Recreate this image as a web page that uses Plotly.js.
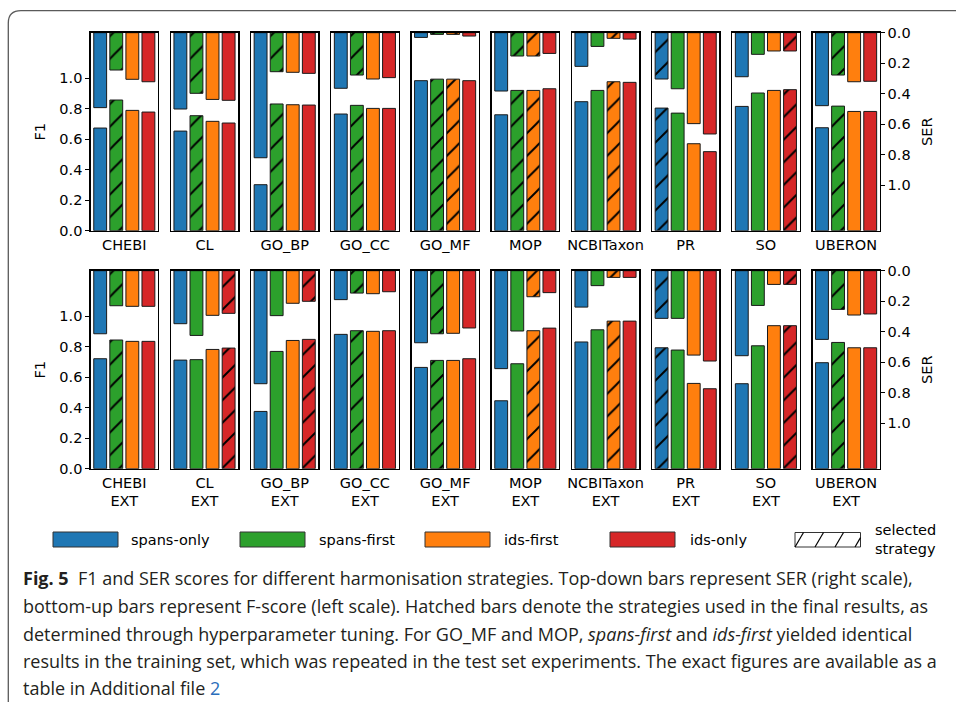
<!DOCTYPE html>
<html>
<head>
<meta charset="utf-8">
<script src="https://cdn.plot.ly/plotly-3.0.1.min.js"></script>
<style>html,body{margin:0;padding:0;background:#fff;}#chart{width:956px;height:702px;}</style>
</head>
<body>
<div id="chart"></div>
<script>
// ---------------- DATA ----------------
const datasets = ['CHEBI','CL','GO_BP','GO_CC','GO_MF','MOP','NCBITaxon','PR','SO','UBERON'];
const labelsTest = ['CHEBI','CL','GO_BP','GO_CC','GO_MF','MOP','NCBITaxon','PR','SO','UBERON'];
const labelsExt = ['CHEBI<br>EXT','CL<br>EXT','GO_BP<br>EXT','GO_CC<br>EXT','GO_MF<br>EXT','MOP<br>EXT','NCBITaxon<br>EXT','PR<br>EXT','SO<br>EXT','UBERON<br>EXT'];
const strategies = ['spans-only','spans-first','ids-first','ids-only'];
const strategyColors = ['#1f77b4','#2ca02c','#ff7f0e','#d62728'];
const f1Ticks = [0, 0.2, 0.4, 0.6, 0.8, 1.0];
const serTicks = [0, 0.2, 0.4, 0.6, 0.8, 1.0];

// test set (top row)
const f1SpansOnly   = [0.674, 0.654, 0.302, 0.766, 0.985, 0.761, 0.847, 0.805, 0.816, 0.676];
const f1SpansFirst  = [0.858, 0.755, 0.832, 0.823, 0.995, 0.921, 0.921, 0.772, 0.904, 0.818];
const f1IdsFirst    = [0.790, 0.718, 0.827, 0.803, 0.995, 0.921, 0.978, 0.571, 0.921, 0.783];
const f1IdsOnly     = [0.779, 0.707, 0.825, 0.803, 0.985, 0.932, 0.974, 0.519, 0.926, 0.783];
const serSpansOnly  = [0.492, 0.501, 0.821, 0.365, 0.031, 0.383, 0.221, 0.304, 0.289, 0.479];
const serSpansFirst = [0.245, 0.398, 0.256, 0.278, 0.011, 0.153, 0.090, 0.368, 0.142, 0.278];
const serIdsFirst   = [0.306, 0.438, 0.260, 0.304, 0.011, 0.153, 0.037, 0.597, 0.120, 0.322];
const serIdsOnly    = [0.322, 0.444, 0.267, 0.295, 0.022, 0.136, 0.042, 0.665, 0.120, 0.319];
const selectedTest  = [[1],[1],[1],[1],[1,2],[1,2],[2],[0],[3],[1]];

// extended set (bottom row)
const f1SpansOnlyExt   = [0.722, 0.713, 0.376, 0.882, 0.665, 0.446, 0.832, 0.794, 0.558, 0.696];
const f1SpansFirstExt  = [0.845, 0.716, 0.770, 0.906, 0.711, 0.689, 0.912, 0.779, 0.807, 0.829];
const f1IdsFirstExt    = [0.836, 0.783, 0.842, 0.902, 0.711, 0.906, 0.969, 0.560, 0.939, 0.794];
const f1IdsOnlyExt     = [0.836, 0.792, 0.849, 0.906, 0.722, 0.923, 0.969, 0.525, 0.939, 0.794];
const serSpansOnlyExt  = [0.414, 0.348, 0.742, 0.190, 0.473, 0.643, 0.239, 0.313, 0.558, 0.451];
const serSpansFirstExt = [0.230, 0.425, 0.295, 0.147, 0.414, 0.396, 0.098, 0.313, 0.228, 0.254];
const serIdsFirstExt   = [0.234, 0.293, 0.214, 0.151, 0.411, 0.171, 0.044, 0.554, 0.090, 0.291];
const serIdsOnlyExt    = [0.234, 0.280, 0.201, 0.138, 0.376, 0.144, 0.044, 0.593, 0.090, 0.284];
const selectedExt      = [[1],[3],[3],[1],[1],[2],[2],[0],[3],[1]];

const captionLines = [
  '<b>Fig. 5</b>  F1 and SER scores for different harmonisation strategies. Top-down bars represent SER (right scale),',
  'bottom-up bars represent F-score (left scale). Hatched bars denote the strategies used in the final results, as',
  'determined through hyperparameter tuning. For GO_MF and MOP, <i>spans-first</i> and <i>ids-first</i> yielded identical',
  'results in the training set, which was repeated in the test set experiments. The exact figures are available as a',
  'table in Additional file <span style="color:#2a6ebb">2</span>'
];

// ---------------- BUILD ----------------
const W = 956, H = 702;
const px = v => v / W;
const py = v => 1 - v / H;
const FONT = 'DejaVu Sans';
const FS = 14.5;

const rows = [
  {labels: labelsTest, f1: [f1SpansOnly, f1SpansFirst, f1IdsFirst, f1IdsOnly],
   ser: [serSpansOnly, serSpansFirst, serIdsFirst, serIdsOnly], sel: selectedTest, top: 32.7, bottom: 230.7},
  {labels: labelsExt, f1: [f1SpansOnlyExt, f1SpansFirstExt, f1IdsFirstExt, f1IdsOnlyExt],
   ser: [serSpansOnlyExt, serSpansFirstExt, serIdsFirstExt, serIdsOnlyExt], sel: selectedExt, top: 270.7, bottom: 468.7}
];

const traces = [];
const layout = {
  width: W, height: H, margin: {l: 0, r: 0, t: 0, b: 0},
  paper_bgcolor: '#fff', plot_bgcolor: 'rgba(0,0,0,0)',
  showlegend: false, barmode: 'overlay',
  font: {family: FONT, size: FS, color: '#000'},
  shapes: [], annotations: []
};

function barMarker(j, hatched) {
  return {
    color: strategyColors[j],
    line: {color: '#1a1a1a', width: 1},
    pattern: hatched
      ? {shape: '/', fillmode: 'replace', bgcolor: strategyColors[j], fgcolor: '#000', fgopacity: 1, size: 16, solidity: 0.12}
      : {shape: ''}
  };
}

rows.forEach((row, r) => {
  datasets.forEach((ds, i) => {
    const k = r * 10 + i + 1;
    const yF = 2 * k - 1, yS = 2 * k;
    const xName = k === 1 ? 'x' : 'x' + k;
    const yFName = yF === 1 ? 'y' : 'y' + yF;
    const ySName = 'y' + yS;
    strategies.forEach((s, j) => {
      const hatched = row.sel[i].includes(j);
      traces.push({type: 'bar', name: s, x: [j], y: [row.f1[j][i]], width: 0.8, xaxis: xName, yaxis: yFName,
                   marker: barMarker(j, hatched), hoverinfo: 'skip'});
      traces.push({type: 'bar', name: s, x: [j], y: [row.ser[j][i]], width: 0.8, xaxis: xName, yaxis: ySName,
                   marker: barMarker(j, hatched), hoverinfo: 'skip'});
    });

    const left = 90.7 + 80.2 * i;
    const xdom = [px(left), px(left + 67.2)];
    layout[k === 1 ? 'xaxis' : 'xaxis' + k] = {
      domain: xdom, anchor: yFName, range: [-0.59, 3.59],
      tickvals: [1.5], ticktext: [row.labels[i]], ticks: '', tickfont: {family: FONT, size: FS, color: '#000'},
      showline: true, mirror: true, linecolor: '#000', linewidth: 1.4,
      showgrid: false, zeroline: false, fixedrange: true
    };
    const first = i === 0, last = i === 9;
    layout[yF === 1 ? 'yaxis' : 'yaxis' + yF] = {
      domain: [py(row.bottom), py(row.top)], anchor: xName, range: [0, 1.3],
      tickvals: f1Ticks, tickformat: '.1f', showticklabels: first, ticks: first ? 'outside' : '',
      ticklen: 4, tickwidth: 1, tickcolor: '#000',
      tickfont: {family: FONT, size: FS, color: '#000'},
      title: first ? {text: 'F1', font: {family: FONT, size: FS, color: '#000'}, standoff: 10} : {text: ''},
      showline: true, mirror: true, linecolor: '#000', linewidth: 1.4,
      showgrid: false, zeroline: false, fixedrange: true
    };
    layout['yaxis' + yS] = {
      overlaying: yFName, anchor: xName, side: 'right', range: [1.3, 0],
      tickvals: serTicks, tickformat: '.1f', showticklabels: last, ticks: last ? 'outside' : '',
      ticklen: 4, tickwidth: 1, tickcolor: '#000',
      tickfont: {family: FONT, size: FS, color: '#000'},
      title: last ? {text: 'SER', font: {family: FONT, size: FS, color: '#000'}, standoff: 12} : {text: ''},
      showline: false, showgrid: false, zeroline: false, fixedrange: true
    };
  });
});

// Figure frame (rounded top-left corner)
layout.shapes.push({
  type: 'path', xref: 'paper', yref: 'paper',
  path: `M ${px(8.3)},0 L ${px(8.3)},${py(23)} Q ${px(8.3)},${py(10.7)} ${px(21)},${py(10.7)} L 1,${py(10.7)}`,
  line: {color: '#5a5a5a', width: 1.3}
});

// Legend
const legendX = [53, 240, 425, 610];
const legendTextX = [129, 317, 502, 688];
strategies.forEach((s, j) => {
  layout.shapes.push({type: 'rect', xref: 'paper', yref: 'paper',
    x0: px(legendX[j]), x1: px(legendX[j] + 65), y0: py(547), y1: py(532),
    fillcolor: strategyColors[j], line: {color: '#333', width: 1}});
  layout.annotations.push({xref: 'paper', yref: 'paper', x: px(legendTextX[j]), y: py(539.5),
    xanchor: 'left', yanchor: 'middle', showarrow: false, text: s,
    font: {family: FONT, size: FS, color: '#000'}});
});
layout.shapes.push({type: 'rect', xref: 'paper', yref: 'paper',
  x0: px(795), x1: px(860.5), y0: py(547), y1: py(532.5), fillcolor: '#fff', line: {color: '#333', width: 1}});
[[795, 547, 803.5, 532.5], [815, 547, 823.5, 532.5], [835, 547, 843.5, 532.5], [855, 547, 860.5, 537.6]].forEach(l => {
  layout.shapes.push({type: 'line', xref: 'paper', yref: 'paper',
    x0: px(l[0]), y0: py(l[1]), x1: px(l[2]), y1: py(l[3]), line: {color: '#000', width: 1.2}});
});
layout.annotations.push({xref: 'paper', yref: 'paper', x: px(873), y: py(539.5),
  xanchor: 'left', yanchor: 'middle', showarrow: false, text: 'selected<br>strategy', align: 'left',
  font: {family: FONT, size: FS, color: '#000'}});

// Caption – size fitted to the measured width of line 2
const CAP_FONT = 'Open Sans';
const cv = document.createElement('canvas').getContext('2d');
cv.font = '100px "' + CAP_FONT + '"';
const w100 = cv.measureText(captionLines[1].replace(/<[^>]+>/g, '')).width;
const capSize = Math.min(18, 100 * 910 / w100);
const capY = [578, 606, 633.5, 661, 688];
captionLines.forEach((t, n) => {
  layout.annotations.push({xref: 'paper', yref: 'paper', x: px(21), y: py(capY[n]),
    xanchor: 'left', yanchor: 'middle', showarrow: false, text: t, align: 'left',
    font: {family: CAP_FONT, size: capSize, color: '#231f20'}});
});

Plotly.newPlot('chart', traces, layout, {displayModeBar: false, staticPlot: true});
</script>
</body>
</html>
